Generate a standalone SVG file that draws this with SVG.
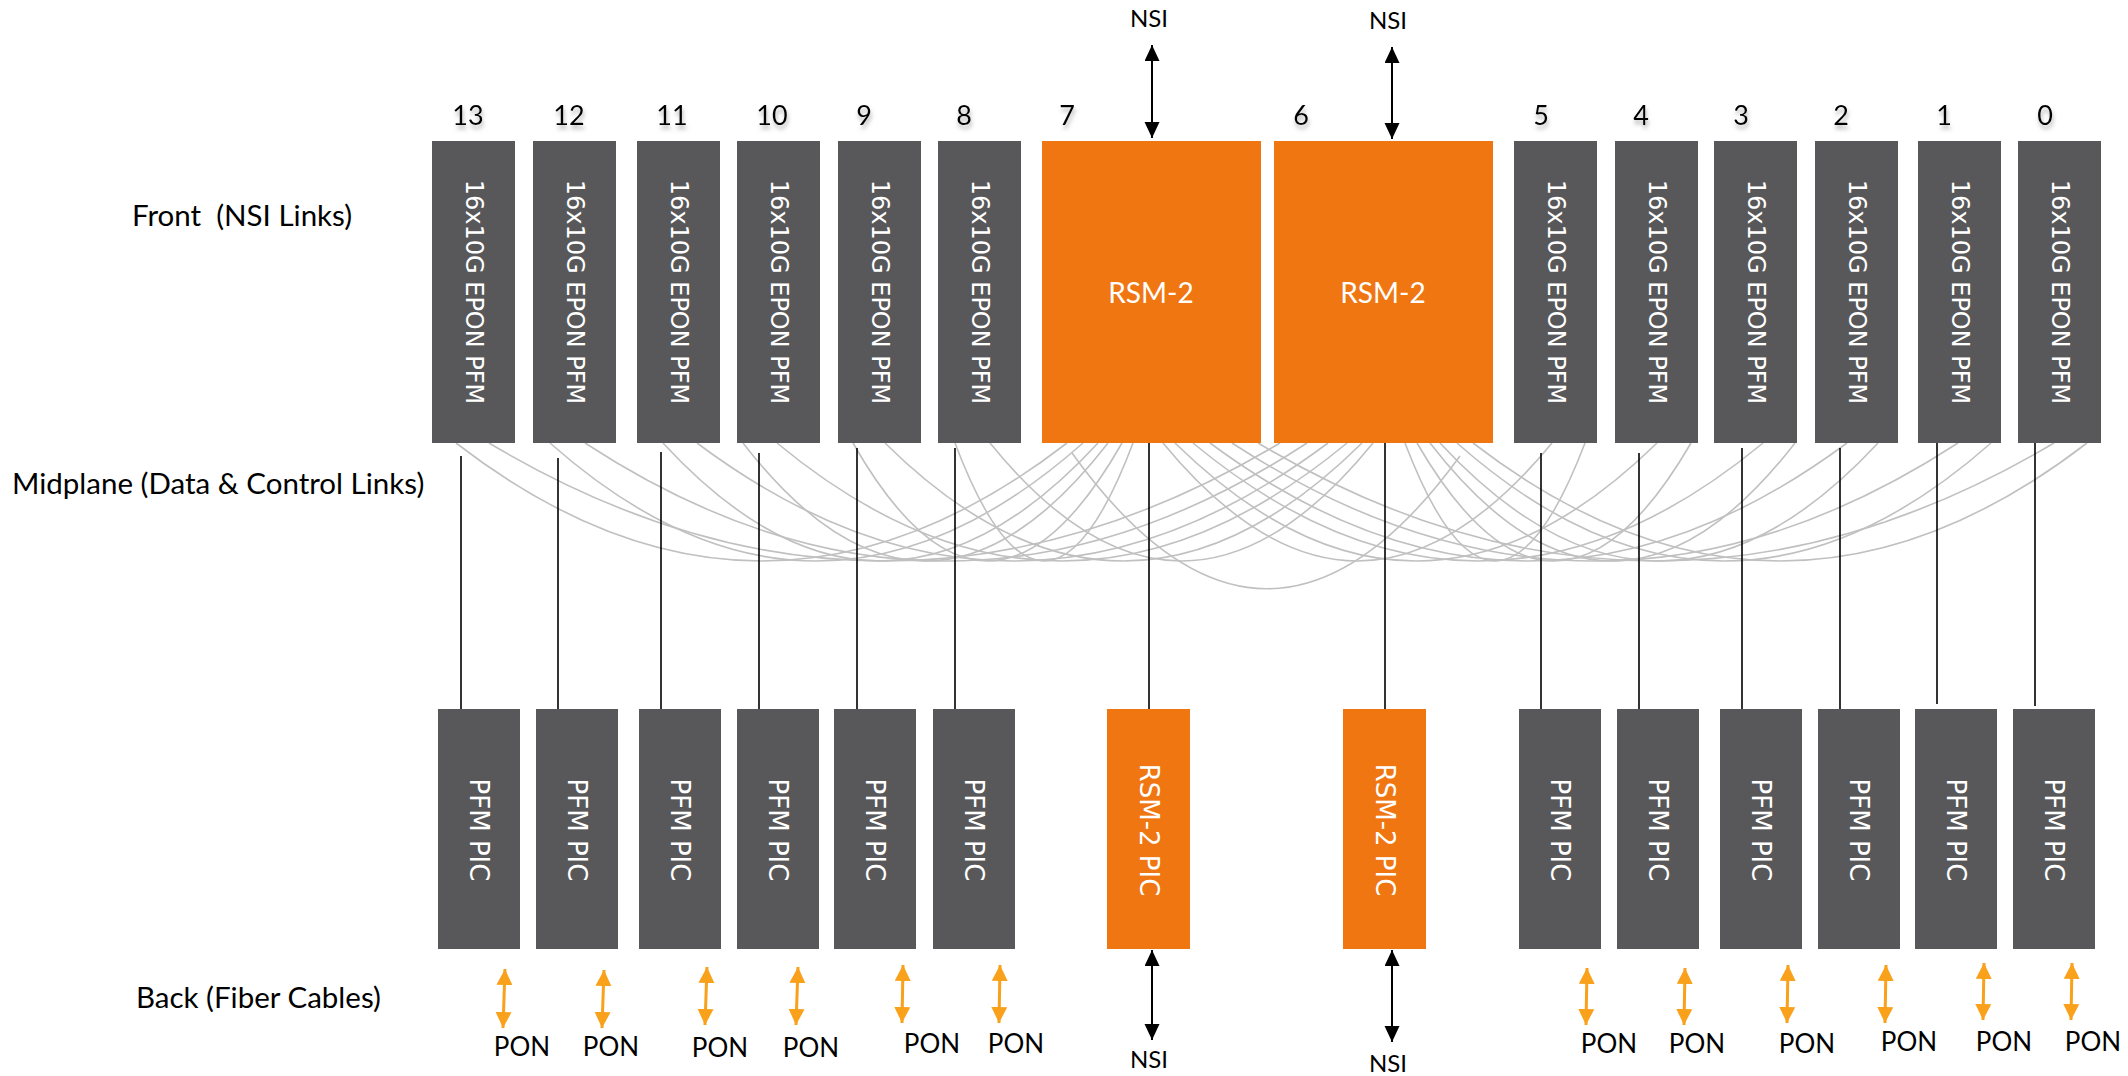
<svg xmlns="http://www.w3.org/2000/svg" width="2128" height="1076" viewBox="0 0 2128 1076">
<style>
.bg{fill:#ffffff}
.pfm{fill:#58585a}
.rsm{fill:#f07612}
.vt{font-family:"DejaVu Sans",Verdana,sans-serif;fill:#ffffff;text-anchor:middle}
.top{font-size:24px}
.bot{font-size:26px}
.lbl{font-family:Lato,"Open Sans",sans-serif;fill:#000000}
.side{font-size:29.5px}
.num{font-size:27px;text-anchor:middle}
.nsi{font-size:24px;text-anchor:middle}
.pon{font-size:26px;text-anchor:middle}
.rl{font-family:Lato,"Open Sans",sans-serif;font-size:28px;fill:#ffffff;text-anchor:middle}
.mid{fill:none;stroke:#c0c0c0;stroke-width:1.6}
.vl{stroke:#000000;stroke-width:1.6}
.nsa{stroke:#000000;stroke-width:2;fill:none;marker-start:url(#ab);marker-end:url(#ab)}
.pa{stroke:#f9a11b;stroke-width:3;fill:none;marker-start:url(#ao);marker-end:url(#ao)}
</style>
<defs>
<marker id="ab" markerUnits="userSpaceOnUse" markerWidth="16" markerHeight="16" refX="16" refY="7.5" orient="auto-start-reverse">
<path d="M0,0 L16,7.5 L0,15 z" fill="#000000"/>
</marker>
<marker id="ao" markerUnits="userSpaceOnUse" markerWidth="17" markerHeight="17" refX="16" refY="8" orient="auto-start-reverse">
<path d="M0,0 L16,8 L0,16 z" fill="#f9a11b"/>
</marker>
<filter id="sh" x="-50%" y="-50%" width="200%" height="200%">
<feGaussianBlur in="SourceAlpha" stdDeviation="2"/>
<feOffset dx="1" dy="4" result="b"/>
<feFlood flood-color="#808080" flood-opacity="0.6"/>
<feComposite in2="b" operator="in"/>
<feMerge><feMergeNode/><feMergeNode in="SourceGraphic"/></feMerge>
</filter>
</defs>
<rect class="bg" x="0" y="0" width="2128" height="1076"/>

<g id="side-labels">
<text class="lbl side" x="132" y="226" xml:space="preserve">Front  (NSI Links)</text>
<text class="lbl side" x="12" y="494">Midplane (Data &amp; Control Links)</text>
<text class="lbl side" x="136" y="1008">Back (Fiber Cables)</text>
</g>

<g id="slot-numbers" filter="url(#sh)">
<text class="lbl num" x="468" y="125">13</text>
<text class="lbl num" x="569" y="125">12</text>
<text class="lbl num" x="672" y="125">11</text>
<text class="lbl num" x="772" y="125">10</text>
<text class="lbl num" x="864" y="125">9</text>
<text class="lbl num" x="964" y="125">8</text>
<text class="lbl num" x="1067" y="125">7</text>
<text class="lbl num" x="1301" y="125">6</text>
<text class="lbl num" x="1541" y="125">5</text>
<text class="lbl num" x="1641" y="125">4</text>
<text class="lbl num" x="1741" y="125">3</text>
<text class="lbl num" x="1841" y="125">2</text>
<text class="lbl num" x="1944" y="125">1</text>
<text class="lbl num" x="2045" y="125">0</text>
</g>

<g id="connectors">
<g id="midplane-links">
<path class="mid" d="M456,443 Q761.5,679 1067,443"/>
<path class="mid" d="M550,443 Q816.5,679 1083,443"/>
<path class="mid" d="M663,443 Q880.5,679 1098,443"/>
<path class="mid" d="M743,443 Q925.5,679 1108,443"/>
<path class="mid" d="M853,443 Q987.5,679 1122,443"/>
<path class="mid" d="M955,443 Q1044,679 1133,443"/>
<path class="mid" d="M489,443 Q884.5,679 1280,443"/>
<path class="mid" d="M585,443 Q946,679 1307,443"/>
<path class="mid" d="M697,443 Q1012.5,679 1328,443"/>
<path class="mid" d="M777,443 Q1062,679 1347,443"/>
<path class="mid" d="M885,443 Q1123.5,679 1362,443"/>
<path class="mid" d="M990,443 Q1181.5,679 1373,443"/>
<path class="mid" d="M1552,443 Q1357.5,679 1163,443"/>
<path class="mid" d="M1657,443 Q1416,679 1175,443"/>
<path class="mid" d="M1763,443 Q1478,679 1193,443"/>
<path class="mid" d="M1847,443 Q1528.5,679 1210,443"/>
<path class="mid" d="M1958,443 Q1595,679 1232,443"/>
<path class="mid" d="M2054,443 Q1656,679 1258,443"/>
<path class="mid" d="M1585,443 Q1495,679 1405,443"/>
<path class="mid" d="M1691,443 Q1554,679 1417,443"/>
<path class="mid" d="M1795,443 Q1612.5,679 1430,443"/>
<path class="mid" d="M1878,443 Q1659,679 1440,443"/>
<path class="mid" d="M1991,443 Q1724,679 1457,443"/>
<path class="mid" d="M2087,443 Q1780,679 1473,443"/>
<path class="mid" d="M1072,453 Q1266,723 1460,456"/>
</g>
<g id="front-back-links">
<line class="vl" x1="461" y1="456" x2="461" y2="709"/>
<line class="vl" x1="558" y1="458" x2="558" y2="709"/>
<line class="vl" x1="661" y1="452" x2="661" y2="709"/>
<line class="vl" x1="759" y1="453" x2="759" y2="709"/>
<line class="vl" x1="857" y1="448" x2="857" y2="709"/>
<line class="vl" x1="955" y1="448" x2="955" y2="709"/>
<line class="vl" x1="1149" y1="443" x2="1149" y2="709"/>
<line class="vl" x1="1385" y1="443" x2="1385" y2="709"/>
<line class="vl" x1="1541" y1="453" x2="1541" y2="709"/>
<line class="vl" x1="1639" y1="453" x2="1639" y2="709"/>
<line class="vl" x1="1742" y1="448" x2="1742" y2="709"/>
<line class="vl" x1="1840" y1="448" x2="1840" y2="709"/>
<line class="vl" x1="1937" y1="443" x2="1937" y2="704"/>
<line class="vl" x1="2035" y1="443" x2="2035" y2="706"/>
</g>
<g id="nsi-arrows">
<line class="nsa" x1="1152" y1="45" x2="1152" y2="138"/>
<line class="nsa" x1="1392" y1="47" x2="1392" y2="139"/>
<line class="nsa" x1="1152" y1="950" x2="1152" y2="1040"/>
<line class="nsa" x1="1392" y1="950" x2="1392" y2="1042"/>
</g>
<g id="pon-arrows">
<line class="pa" x1="505" y1="969" x2="503" y2="1028"/>
<line class="pa" x1="604" y1="970" x2="602" y2="1028"/>
<line class="pa" x1="707" y1="967" x2="705" y2="1025"/>
<line class="pa" x1="798" y1="967" x2="796" y2="1025"/>
<line class="pa" x1="903" y1="965" x2="902" y2="1023"/>
<line class="pa" x1="1000" y1="965" x2="999" y2="1023"/>
<line class="pa" x1="1587" y1="968" x2="1586" y2="1025"/>
<line class="pa" x1="1685" y1="968" x2="1684" y2="1025"/>
<line class="pa" x1="1788" y1="965" x2="1787" y2="1023"/>
<line class="pa" x1="1886" y1="965" x2="1885" y2="1023"/>
<line class="pa" x1="1984" y1="963" x2="1983" y2="1020"/>
<line class="pa" x1="2072" y1="963" x2="2071" y2="1020"/>
</g>
</g>

<g id="front-modules">
<g id="pfm13"><rect class="pfm" x="432" y="141" width="83" height="302"/><text class="vt top" transform="translate(475,292) rotate(90)" y="8.7">16x10G EPON PFM</text></g>
<g id="pfm12"><rect class="pfm" x="533" y="141" width="83" height="302"/><text class="vt top" transform="translate(576,292) rotate(90)" y="8.7">16x10G EPON PFM</text></g>
<g id="pfm11"><rect class="pfm" x="637" y="141" width="83" height="302"/><text class="vt top" transform="translate(680,292) rotate(90)" y="8.7">16x10G EPON PFM</text></g>
<g id="pfm10"><rect class="pfm" x="737" y="141" width="83" height="302"/><text class="vt top" transform="translate(780,292) rotate(90)" y="8.7">16x10G EPON PFM</text></g>
<g id="pfm9"><rect class="pfm" x="838" y="141" width="83" height="302"/><text class="vt top" transform="translate(881,292) rotate(90)" y="8.7">16x10G EPON PFM</text></g>
<g id="pfm8"><rect class="pfm" x="938" y="141" width="83" height="302"/><text class="vt top" transform="translate(981,292) rotate(90)" y="8.7">16x10G EPON PFM</text></g>
<g id="rsm7"><rect class="rsm" x="1042" y="141" width="219" height="302"/><text class="rl" x="1151" y="303">RSM-2</text></g>
<g id="rsm6"><rect class="rsm" x="1274" y="141" width="219" height="302"/><text class="rl" x="1383" y="303">RSM-2</text></g>
<g id="pfm5"><rect class="pfm" x="1514" y="141" width="83" height="302"/><text class="vt top" transform="translate(1557,292) rotate(90)" y="8.7">16x10G EPON PFM</text></g>
<g id="pfm4"><rect class="pfm" x="1615" y="141" width="83" height="302"/><text class="vt top" transform="translate(1658,292) rotate(90)" y="8.7">16x10G EPON PFM</text></g>
<g id="pfm3"><rect class="pfm" x="1714" y="141" width="83" height="302"/><text class="vt top" transform="translate(1757,292) rotate(90)" y="8.7">16x10G EPON PFM</text></g>
<g id="pfm2"><rect class="pfm" x="1815" y="141" width="83" height="302"/><text class="vt top" transform="translate(1858,292) rotate(90)" y="8.7">16x10G EPON PFM</text></g>
<g id="pfm1"><rect class="pfm" x="1918" y="141" width="83" height="302"/><text class="vt top" transform="translate(1961,292) rotate(90)" y="8.7">16x10G EPON PFM</text></g>
<g id="pfm0"><rect class="pfm" x="2018" y="141" width="83" height="302"/><text class="vt top" transform="translate(2061,292) rotate(90)" y="8.7">16x10G EPON PFM</text></g>
</g>

<g id="back-modules">
<g id="pic13"><rect class="pfm" x="438" y="709" width="82" height="240"/><text class="vt bot" transform="translate(479,830) rotate(90)" y="9.4">PFM PIC</text></g>
<g id="pic12"><rect class="pfm" x="536" y="709" width="82" height="240"/><text class="vt bot" transform="translate(577,830) rotate(90)" y="9.4">PFM PIC</text></g>
<g id="pic11"><rect class="pfm" x="639" y="709" width="82" height="240"/><text class="vt bot" transform="translate(680,830) rotate(90)" y="9.4">PFM PIC</text></g>
<g id="pic10"><rect class="pfm" x="737" y="709" width="82" height="240"/><text class="vt bot" transform="translate(778,830) rotate(90)" y="9.4">PFM PIC</text></g>
<g id="pic9"><rect class="pfm" x="834" y="709" width="82" height="240"/><text class="vt bot" transform="translate(875,830) rotate(90)" y="9.4">PFM PIC</text></g>
<g id="pic8"><rect class="pfm" x="933" y="709" width="82" height="240"/><text class="vt bot" transform="translate(974,830) rotate(90)" y="9.4">PFM PIC</text></g>
<g id="rsmpic7"><rect class="rsm" x="1107" y="709" width="83" height="240"/><text class="vt bot" transform="translate(1149,830) rotate(90)" y="9.4">RSM-2 PIC</text></g>
<g id="rsmpic6"><rect class="rsm" x="1343" y="709" width="83" height="240"/><text class="vt bot" transform="translate(1385,830) rotate(90)" y="9.4">RSM-2 PIC</text></g>
<g id="pic5"><rect class="pfm" x="1519" y="709" width="82" height="240"/><text class="vt bot" transform="translate(1560,830) rotate(90)" y="9.4">PFM PIC</text></g>
<g id="pic4"><rect class="pfm" x="1617" y="709" width="82" height="240"/><text class="vt bot" transform="translate(1658,830) rotate(90)" y="9.4">PFM PIC</text></g>
<g id="pic3"><rect class="pfm" x="1720" y="709" width="82" height="240"/><text class="vt bot" transform="translate(1761,830) rotate(90)" y="9.4">PFM PIC</text></g>
<g id="pic2"><rect class="pfm" x="1818" y="709" width="82" height="240"/><text class="vt bot" transform="translate(1859,830) rotate(90)" y="9.4">PFM PIC</text></g>
<g id="pic1"><rect class="pfm" x="1915" y="709" width="82" height="240"/><text class="vt bot" transform="translate(1956,830) rotate(90)" y="9.4">PFM PIC</text></g>
<g id="pic0"><rect class="pfm" x="2013" y="709" width="82" height="240"/><text class="vt bot" transform="translate(2054,830) rotate(90)" y="9.4">PFM PIC</text></g>
</g>

<g id="io-labels">
<text class="lbl nsi" x="1149" y="27">NSI</text>
<text class="lbl nsi" x="1388" y="29">NSI</text>
<text class="lbl nsi" x="1149" y="1068">NSI</text>
<text class="lbl nsi" x="1388" y="1072">NSI</text>
<text class="lbl pon" x="522" y="1056">PON</text>
<text class="lbl pon" x="611" y="1056">PON</text>
<text class="lbl pon" x="720" y="1057">PON</text>
<text class="lbl pon" x="811" y="1057">PON</text>
<text class="lbl pon" x="932" y="1053">PON</text>
<text class="lbl pon" x="1016" y="1053">PON</text>
<text class="lbl pon" x="1609" y="1053">PON</text>
<text class="lbl pon" x="1697" y="1053">PON</text>
<text class="lbl pon" x="1807" y="1053">PON</text>
<text class="lbl pon" x="1909" y="1051">PON</text>
<text class="lbl pon" x="2004" y="1051">PON</text>
<text class="lbl pon" x="2093" y="1051">PON</text>
</g>
</svg>
